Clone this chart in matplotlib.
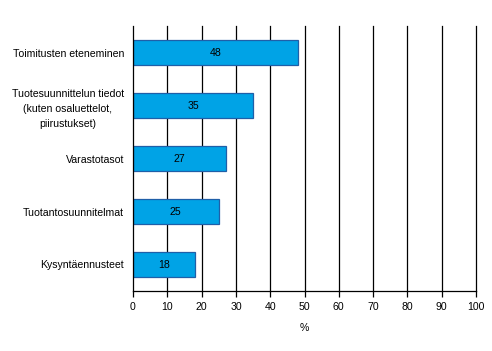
import numpy as np
import matplotlib.pyplot as plt

plt.rcParams['font.family'] = ['Liberation Sans', 'DejaVu Sans']

# 数据
categories = ['Toimitusten eteneminen',
              'Tuotesuunnittelun tiedot\n(kuten osaluettelot,\npiirustukset)',
              'Varastotasot',
              'Tuotantosuunnitelmat',
              'Kysyntäennusteet']
values = [48, 35, 27, 25, 18]
x_ticks = list(range(0, 101, 10))

fig = plt.figure(figsize=(4.92, 3.51), dpi=100)
ax = fig.add_axes([133 / 492, 1 - 291 / 351, 343 / 492, 265 / 351])

y = np.arange(len(categories))
for xt in x_ticks[1:]:
    ax.axvline(xt, color='black', lw=0.9, zorder=0, clip_on=False)
ax.barh(y, values, height=0.47, color='#00A3E6', edgecolor='#1F5FA8', lw=0.9, zorder=2)
for yi, v in zip(y, values):
    ax.text(v / 2, yi, str(v), ha='center', va='center', fontsize=7.6, zorder=3)

ax.set_xlim(0, 100)
ax.set_ylim(len(categories) - 0.5, -0.5)
ax.set_xticks(x_ticks)
ax.set_yticks(y)
ax.set_yticklabels(categories, fontsize=7.6, linespacing=1.6, multialignment='center')
ax.tick_params(axis='y', length=0, pad=6.5)
ax.tick_params(axis='x', length=4, width=0.9, labelsize=7.6, pad=4)
for s in ['top', 'right']:
    ax.spines[s].set_visible(False)
for s in ['left', 'bottom']:
    ax.spines[s].set_linewidth(0.9)
ax.set_xlabel('%', fontsize=7.6, labelpad=8)

plt.savefig('out.png', dpi=100)
